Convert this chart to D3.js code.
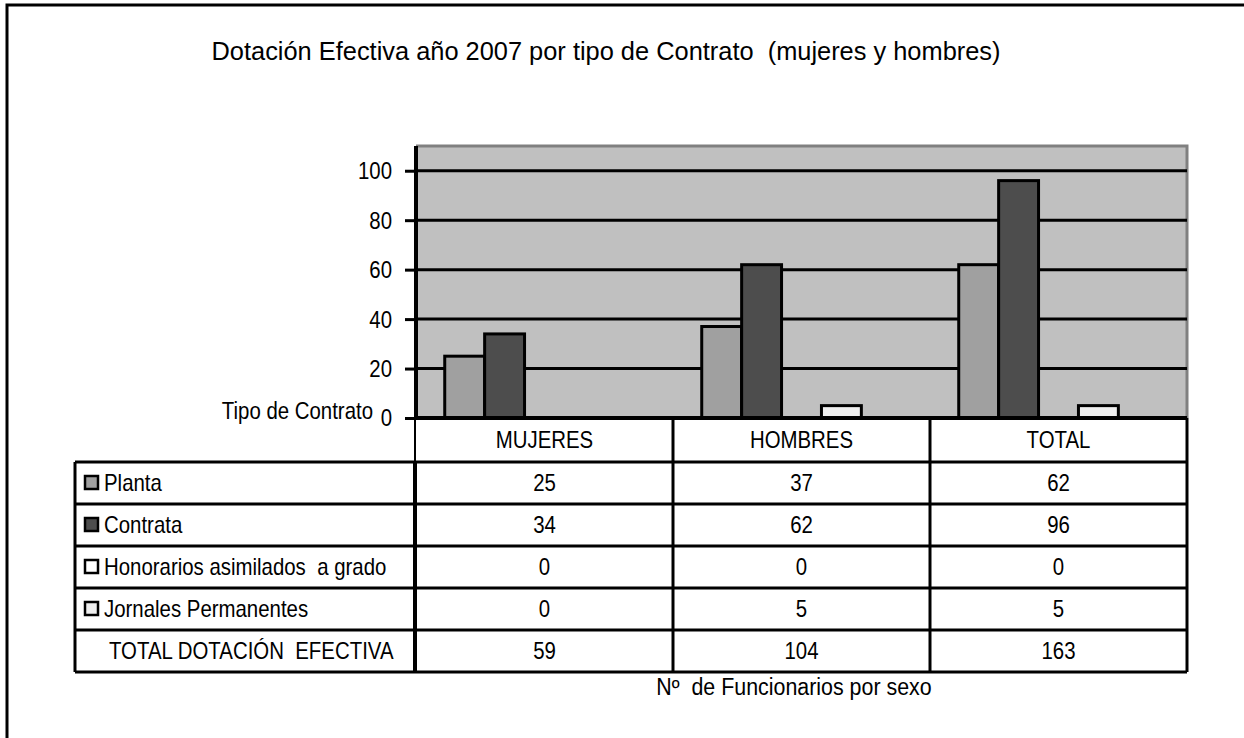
<!DOCTYPE html>
<html>
<head>
<meta charset="utf-8">
<script src="https://cdn.jsdelivr.net/npm/d3@7"></script>
<style>
  body { margin: 0; background: #fff; }
  svg text { font-family: "Liberation Sans", Arial, sans-serif; fill: #000; white-space: pre; }
</style>
</head>
<body>
<div id="chart"></div>
<script>
const categories = ["MUJERES", "HOMBRES", "TOTAL"];
const seriesNames = ["Planta", "Contrata", "Honorarios asimilados  a grado", "Jornales Permanentes"];
const planta = [25, 37, 62];
const contrata = [34, 62, 96];
const honorarios = [0, 0, 0];
const jornales = [0, 5, 5];
const totalLabel = "TOTAL DOTACIÓN  EFECTIVA";
const totals = [59, 104, 163];
const yTicks = [0, 20, 40, 60, 80, 100];
const seriesColors = ["#a0a0a0", "#4d4d4d", "#ffffff", "#efefef"];

const seriesValues = [planta, contrata, honorarios, jornales];

const width = 1244, height = 738;
const plot = { left: 416, right: 1187, top: 146, bottom: 418 };
const table = { left: 75, headerH: 44, rowH: 42 };
const fontSize = 24;
const narrowFactor = 0.85;

// squeeze Liberation Sans into an Arial Narrow look
function narrow(sel, f = narrowFactor) {
  sel.each(function () {
    const w = this.getComputedTextLength();
    d3.select(this).attr("textLength", w * f).attr("lengthAdjust", "spacingAndGlyphs");
  });
}

const svg = d3.select("#chart")
  .append("svg")
  .attr("width", width)
  .attr("height", height);

// outer frame (only top and left edges fall inside the picture)
svg.append("rect")
  .attr("x", 7).attr("y", 5)
  .attr("width", width + 20).attr("height", height + 20)
  .attr("fill", "none").attr("stroke", "#000").attr("stroke-width", 3);

svg.append("text")
  .attr("x", 606).attr("y", 60)
  .attr("text-anchor", "middle")
  .style("font-size", "25px")
  .text("Dotación Efectiva año 2007 por tipo de Contrato  (mujeres y hombres)")
  .attr("textLength", 789)
  .attr("lengthAdjust", "spacingAndGlyphs");

const x0 = d3.scaleBand().domain(categories).range([plot.left, plot.right]);
// five slots per category: the total row has no bar
const x1 = d3.scaleBand()
  .domain([...seriesNames, totalLabel])
  .range([0, x0.bandwidth()])
  .paddingOuter(0.72);
const y = d3.scaleLinear().domain([0, 110]).range([plot.bottom, plot.top]);

// plot area
svg.append("rect")
  .attr("x", plot.left).attr("y", plot.top)
  .attr("width", plot.right - plot.left).attr("height", plot.bottom - plot.top)
  .attr("fill", "#c0c0c0");
svg.append("path")
  .attr("d", `M${plot.left},${plot.top}H${plot.right}V${plot.bottom}`)
  .attr("fill", "none").attr("stroke", "#808080").attr("stroke-width", 3);

// gridlines
svg.append("g")
  .selectAll("line")
  .data(yTicks.filter(d => d > 0))
  .join("line")
  .attr("x1", plot.left).attr("x2", plot.right)
  .attr("y1", d => y(d)).attr("y2", d => y(d))
  .attr("stroke", "#000").attr("stroke-width", 3);

// bars
const barData = [];
categories.forEach((c, ci) => {
  seriesNames.forEach((s, si) => {
    const v = seriesValues[si][ci];
    if (v > 0) barData.push({ c, s, v, color: seriesColors[si] });
  });
});
svg.append("g")
  .selectAll("rect")
  .data(barData)
  .join("rect")
  .attr("x", d => x0(d.c) + x1(d.s))
  .attr("y", d => y(d.v))
  .attr("width", x1.bandwidth())
  .attr("height", d => y(0) - y(d.v))
  .attr("fill", d => d.color)
  .attr("stroke", "#000").attr("stroke-width", 3);

// y axis
const yAxis = svg.append("g")
  .attr("transform", `translate(${plot.left},0)`)
  .call(d3.axisLeft(y).tickValues(yTicks).tickSize(11).tickPadding(13));
yAxis.select(".domain").remove();
yAxis.selectAll(".tick line").attr("stroke", "#000").attr("stroke-width", 3);
yAxis.selectAll(".tick text")
  .style("font-size", fontSize + "px")
  .attr("fill", "#000")
  .attr("dy", "0.33em")
  .call(narrow);
svg.append("line")
  .attr("x1", plot.left).attr("x2", plot.left)
  .attr("y1", plot.top).attr("y2", plot.bottom + table.headerH)
  .attr("stroke", "#000").attr("stroke-width", 4);

// row header title, squeezed with a transform so its box stays narrow
svg.append("text")
  .attr("transform", `translate(373,${plot.bottom + 1}) scale(${narrowFactor},1)`)
  .attr("text-anchor", "end")
  .style("font-size", fontSize + "px")
  .text("Tipo de Contrato");

// data table
const rows = [
  ...seriesNames.map((s, i) => ({ label: s, values: seriesValues[i], color: seriesColors[i] })),
  { label: totalLabel, values: totals, color: null }
];
const headerTop = plot.bottom;
const rowsTop = headerTop + table.headerH;
const tableBottom = rowsTop + rows.length * table.rowH;
const tbl = svg.append("g");

tbl.append("rect")
  .attr("x", plot.left).attr("y", headerTop)
  .attr("width", plot.right - plot.left).attr("height", table.headerH)
  .attr("fill", "#fff");

tbl.selectAll(".hdr")
  .data(categories)
  .join("text")
  .attr("class", "hdr")
  .attr("x", d => x0(d) + x0.bandwidth() / 2)
  .attr("y", headerTop + table.headerH / 2 + 8)
  .attr("text-anchor", "middle")
  .style("font-size", fontSize + "px")
  .text(d => d)
  .call(narrow);

// horizontal lines
const hLines = [rowsTop, ...rows.map((_, i) => rowsTop + (i + 1) * table.rowH)];
tbl.selectAll(".hl")
  .data(hLines)
  .join("line")
  .attr("x1", table.left).attr("x2", plot.right)
  .attr("y1", d => d).attr("y2", d => d)
  .attr("stroke", "#000").attr("stroke-width", 3);
tbl.append("line")
  .attr("x1", plot.left).attr("x2", plot.right)
  .attr("y1", headerTop).attr("y2", headerTop)
  .attr("stroke", "#000").attr("stroke-width", 4);

// vertical lines
tbl.append("line")
  .attr("x1", table.left).attr("x2", table.left)
  .attr("y1", rowsTop).attr("y2", tableBottom)
  .attr("stroke", "#000").attr("stroke-width", 3);
tbl.append("line")
  .attr("x1", plot.left - 1).attr("x2", plot.left - 1)
  .attr("y1", rowsTop).attr("y2", tableBottom)
  .attr("stroke", "#000").attr("stroke-width", 4);
tbl.selectAll(".vl")
  .data(categories)
  .join("line")
  .attr("x1", d => x0(d) + x0.bandwidth()).attr("x2", d => x0(d) + x0.bandwidth())
  .attr("y1", headerTop).attr("y2", tableBottom)
  .attr("stroke", "#000").attr("stroke-width", 3);

const row = tbl.selectAll(".row")
  .data(rows)
  .join("g")
  .attr("class", "row")
  .attr("transform", (d, i) => `translate(0,${rowsTop + i * table.rowH})`);

row.filter(d => d.color)
  .append("rect")
  .attr("x", 85).attr("y", table.rowH / 2 - 7)
  .attr("width", 13).attr("height", 13)
  .attr("fill", d => d.color)
  .attr("stroke", "#000").attr("stroke-width", 2.5);

row.append("text")
  .attr("x", d => d.color ? 104 : 109)
  .attr("y", table.rowH / 2 + 8)
  .style("font-size", fontSize + "px")
  .text(d => d.label)
  .call(narrow);

row.selectAll(".val")
  .data(d => d.values.map((v, i) => ({ v, c: categories[i] })))
  .join("text")
  .attr("class", "val")
  .attr("x", d => x0(d.c) + x0.bandwidth() / 2)
  .attr("y", table.rowH / 2 + 8)
  .attr("text-anchor", "middle")
  .style("font-size", fontSize + "px")
  .text(d => d.v)
  .call(narrow);

svg.append("text")
  .attr("x", 794).attr("y", 695)
  .attr("text-anchor", "middle")
  .style("font-size", "23px")
  .text("Nº  de Funcionarios por sexo")
  .call(narrow, 0.93);
</script>
</body>
</html>
